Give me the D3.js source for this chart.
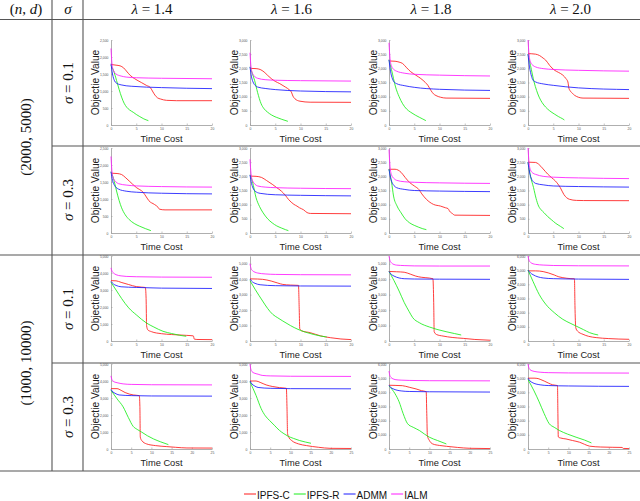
<!DOCTYPE html>
<html>
<head>
<meta charset="utf-8">
<script src="https://cdn.jsdelivr.net/npm/d3@7"></script>
<style>
  body { margin: 0; background: #fff; }
  svg { display: block; }
</style>
</head>
<body>
<div id="chart"></div>
<script>
// table headings
const sizes = ["(2000, 5000)", "(1000, 10000)"];
const sigmas = ["0.1", "0.3"];
const lambdas = ["1.4", "1.6", "1.8", "2.0"];
const methods = ["IPFS-C", "IPFS-R", "ADMM", "IALM"];

// axis ranges per panel (row * 4 + col)
const yMax = [2500, 3000, 3000, 3000, 2500, 3000, 3000, 3000, 5000, 5500, 5500, 6000, 5000, 5000, 6000, 6000];
const yStep = [500, 500, 500, 500, 500, 500, 500, 500, 1000, 1000, 1000, 1000, 1000, 1000, 1000, 1000];
const xMaxRow = [20, 20, 20, 25];
const xTicks = [0, 5, 10, 15, 20, 25];

// curves, [time, objective], one list per panel
const ipfsC = [
  [[0,1780],[1,1760],[1.8,1740],[2.5,1680],[3.2,1560],[3.8,1460],[4.7,1360],[6,1250],[7,1166],[7.8,1100],[8.2,1000],[8.7,880],[9.2,800],[9.8,765],[11,725],[13,715],[20,715]],
  [[0,2000],[1.2,1990],[2,1960],[2.8,1870],[3.5,1750],[4.2,1640],[5,1540],[5.9,1460],[7,1340],[7.8,1240],[8.2,1160],[8.5,1020],[8.9,925],[9.9,840],[11.9,805],[20,800]],
  [[0,2260],[1.2,2250],[2,2220],[2.7,2170],[3.5,2020],[4.3,1880],[5.3,1760],[6.3,1640],[7.2,1500],[7.7,1400],[8.3,1220],[8.8,1100],[9.3,1040],[10.2,980],[11.3,950],[20,940]],
  [[0,2520],[1.5,2500],[2.3,2450],[3,2360],[3.5,2290],[4.3,2100],[5.2,1940],[6,1860],[6.9,1760],[7.5,1640],[7.9,1520],[8.1,1300],[8.3,1220],[8.8,1120],[9.2,1050],[10.9,950],[20,940]],
  [[0,1760],[1.2,1750],[2.1,1720],[2.8,1640],[3.6,1530],[5,1340],[6.4,1190],[7,1060],[7.5,950],[8.6,840],[9.3,760],[9.6,700],[10.7,680],[20,680]],
  [[0,2010],[1.2,2000],[2.3,1960],[3.3,1850],[4.4,1720],[5.3,1600],[6.2,1480],[7,1330],[7.6,1190],[8.7,1010],[9.3,950],[9.8,890],[10.6,820],[11.3,720],[12,690],[20,680]],
  [[0,2250],[1.2,2250],[2.4,2140],[3.2,1960],[4.1,1780],[5.1,1650],[5.9,1540],[6.5,1380],[7.4,1190],[8.8,1010],[10.2,950],[11.2,890],[11.7,860],[12,770],[12.6,680],[13,630],[20,620]],
  [[0,2500],[1.5,2490],[2.1,2430],[3,2260],[3.9,2080],[4.7,1950],[5.4,1840],[6.4,1600],[7.1,1360],[8.2,1190],[9.6,1150],[11,1145],[20,1140]],
  [[0,3550],[1,3540],[2,3450],[3.5,3320],[5,3200],[6,3170],[6.8,3150],[6.95,2500],[7.05,900],[7.3,650],[8,550],[10,430],[12,380],[15,330],[16.3,300],[16.5,110],[17,90],[20,80]],
  [[0,4020],[1.5,4010],[2.5,3990],[4.2,3880],[5.5,3750],[6.5,3660],[8,3620],[9.6,3600],[9.75,2000],[9.85,800],[10.3,650],[11.9,540],[14,330],[15.9,215],[18,130],[20,90]],
  [[0,4500],[1.5,4480],[3,4450],[4.2,4330],[5.3,4200],[6.5,4120],[7.3,4095],[8.7,4030],[8.85,2500],[8.95,600],[9.4,420],[10.7,320],[12.5,230],[14.7,170],[17,100],[20,50]],
  [[0,4950],[1.5,4950],[3,4900],[4,4810],[5.2,4660],[6.1,4530],[6.9,4470],[8.5,4400],[9.2,4390],[9.3,2500],[9.45,950],[9.8,700],[10.9,470],[12,330],[13.5,240],[16,170],[20,120]],
  [[0,3550],[1.5,3550],[2.5,3450],[3.5,3320],[5.5,3180],[7,3140],[7.15,2500],[7.25,700],[7.6,500],[8.8,300],[11,200],[13.8,140],[16,100],[18.8,60],[25,55]],
  [[0,4000],[1.5,4000],[2.5,3920],[4,3770],[5.5,3680],[7.3,3610],[9,3570],[9.15,2500],[9.3,900],[9.7,650],[10.3,500],[12,300],[14,200],[17,100],[19.8,40],[25,30]],
  [[0,4500],[1.5,4490],[3.3,4470],[5,4360],[6.7,4240],[8,4120],[9.2,4050],[9.35,2500],[9.5,950],[10,600],[10.8,360],[12.5,250],[14.2,190],[17,110],[20,50],[25,30]],
  [[0,5000],[1.5,5000],[2.5,4970],[3,4920],[4,4800],[5,4660],[6.1,4530],[7.3,4480],[7.4,2500],[7.5,850],[8,780],[9.4,710],[11,600],[12.75,480],[14,330],[15.25,200],[18,140],[21,120],[23.3,110],[23.6,40],[25,30]]
];

const ipfsR = [
  [[0,1750],[0.5,1600],[1.1,1310],[1.6,1050],[2.1,820],[2.6,640],[3.1,524],[3.7,440],[4.4,375],[5,310],[5.7,247],[6.5,180],[7.4,128]],
  [[0,2050],[0.5,1800],[0.9,1580],[1.5,1150],[2.2,750],[2.8,570],[3.5,450],[4.3,350],[5.2,273],[6.3,200],[7.5,130]],
  [[0,2300],[0.5,1950],[1.3,1340],[2,1000],[2.7,750],[3.5,560],[4.3,450],[5.2,350],[6,273],[6.7,210],[7.3,154]],
  [[0,2500],[0.5,2100],[1.2,1520],[1.7,1220],[2.2,985],[2.8,790],[3.5,630],[4.3,500],[5.2,390],[6,300],[6.9,214],[7.2,178]],
  [[0,1800],[0.5,1600],[1.1,1235],[1.6,960],[2.1,741],[2.8,540],[3.6,395],[4.6,280],[5.7,198],[6.8,130],[7.9,69]],
  [[0,2050],[0.5,1800],[1.2,1245],[1.9,930],[2.6,711],[3.5,500],[4.4,356],[5.3,250],[6.2,178],[7,120],[7.6,83]],
  [[0,2250],[0.5,1800],[0.9,1305],[1.6,950],[2.4,711],[3.2,500],[4.1,356],[5,270],[5.9,202],[6.7,150],[7.4,119]],
  [[0,2500],[0.5,2000],[1.1,1600],[1.6,1220],[2.1,949],[2.6,820],[3.2,711],[3.9,580],[4.6,474],[5.5,340],[6.4,237],[7.1,154]],
  [[0,3450],[1,3000],[2.1,2500],[3.5,1950],[5.1,1516],[7,1063],[8.5,820],[10.3,571],[12,440],[13.6,335],[14.9,276]],
  [[0,3900],[1,3350],[2.5,2586],[3.5,2100],[4.5,1724],[5.5,1500],[6.5,1293],[8,1000],[9.5,754],[11,570],[12.5,431],[14,320],[15.2,258]],
  [[0,4500],[1,3900],[2,3233],[3,2500],[4,1900],[4.7,1509],[6,1185],[8,905],[9.5,750],[11.3,603],[13,480],[14.3,388]],
  [[0,5000],[1,4200],[2.2,3294],[3.5,2600],[5.2,2000],[6.9,1529],[8.5,1230],[9.5,1059],[11,800],[12.2,588],[13.9,424]],
  [[0,3450],[1.5,2950],[3,2480],[4.3,1850],[5.5,1329],[6.5,1150],[7.6,992],[9,780],[10.5,595],[12.3,420],[14.2,258]],
  [[0,3950],[1.5,3150],[2.75,2380],[3.8,1950],[4.8,1687],[6,1400],[7.3,1091],[8.4,900],[9.4,754],[10.8,620],[12.3,496],[13.7,410],[15.1,337]],
  [[0,4450],[1.5,3900],[2.5,3333],[3.5,2500],[4.6,1786],[6,1530],[7.5,1310],[8.8,1050],[10,833],[12,600],[14.2,357]],
  [[0,4900],[1.5,4100],[2.75,3333],[4,2500],[5.25,1786],[6.5,1530],[7.75,1310],[9.8,1050],[11.9,833],[14,630],[15.7,429]]
];

const admm = [
  [[0,1800],[0.3,1500],[0.7,1300],[1,1240],[2,1180],[4,1140],[10,1100],[20,1070]],
  [[0,2050],[0.3,1700],[0.7,1480],[1,1400],[1.5,1340],[3,1290],[5,1250],[10,1200],[20,1170]],
  [[0,2300],[0.3,1900],[0.7,1620],[1,1520],[1.5,1460],[3,1390],[5,1330],[10,1260],[20,1220]],
  [[0,2500],[0.3,2050],[0.7,1720],[1,1580],[1.5,1520],[3,1450],[5,1400],[10,1310],[20,1250]],
  [[0,1800],[0.3,1550],[0.7,1400],[1,1340],[1.5,1290],[3,1230],[5,1200],[10,1170],[20,1150]],
  [[0,2050],[0.3,1750],[0.7,1550],[1,1480],[2,1400],[5,1350],[10,1330],[20,1310]],
  [[0,2250],[0.3,1950],[0.7,1750],[1,1670],[1.5,1600],[3,1540],[5,1500],[10,1480],[20,1460]],
  [[0,2500],[0.3,2150],[0.7,1900],[1,1820],[1.5,1750],[3,1700],[5,1660],[10,1640],[20,1620]],
  [[0,3500],[0.5,3350],[1,3270],[2,3190],[5,3150],[10,3110],[20,3090]],
  [[0,4000],[0.5,3820],[1,3730],[2,3640],[5,3580],[10,3560],[20,3550]],
  [[0,4500],[0.5,4300],[1,4200],[3,4030],[5,4010],[10,4000],[20,3990]],
  [[0,5000],[0.5,4800],[1,4680],[3,4450],[5,4400],[10,4370],[20,4350]],
  [[0,3500],[0.5,3350],[1,3280],[2,3180],[5,3140],[10,3120],[25,3110]],
  [[0,4000],[0.5,3820],[1,3730],[2,3620],[5,3570],[10,3550],[25,3540]],
  [[0,4500],[0.5,4330],[1,4250],[3,4100],[5,4060],[10,4040],[25,4020]],
  [[0,5000],[0.5,4800],[1,4700],[3,4530],[5,4480],[10,4450],[25,4420]]
];

const ialm = [
  [[0,2250],[0.2,1800],[0.5,1600],[1,1500],[2,1440],[3,1410],[5,1390],[10,1375],[20,1360]],
  [[0,2550],[0.2,2050],[0.5,1820],[1,1700],[1.5,1650],[3,1600],[5,1580],[10,1565],[20,1550]],
  [[0,2900],[0.2,2350],[0.5,2080],[1,1950],[1.5,1900],[3,1830],[5,1790],[10,1760],[20,1730]],
  [[0,3000],[0.2,2500],[0.5,2220],[1,2100],[1.5,2050],[3,1990],[5,1960],[10,1930],[20,1900]],
  [[0,2250],[0.2,1800],[0.5,1600],[1,1500],[1.5,1450],[3,1410],[5,1385],[10,1365],[20,1350]],
  [[0,2600],[0.2,2100],[0.5,1850],[1,1720],[1.5,1660],[3,1620],[5,1600],[10,1580],[20,1565]],
  [[0,2950],[0.2,2350],[0.5,2050],[1,1920],[1.5,1860],[3,1810],[5,1790],[10,1770],[20,1750]],
  [[0,3000],[0.2,2500],[0.5,2220],[1,2110],[1.5,2070],[3,2000],[5,1970],[10,1945],[20,1920]],
  [[0,4300],[0.2,4100],[0.5,4000],[1,3900],[2,3830],[3,3800],[5,3780],[10,3760],[20,3750]],
  [[0,5000],[0.2,4700],[0.5,4550],[1,4450],[1.5,4400],[3,4340],[5,4310],[10,4290],[20,4280]],
  [[0,5500],[0.2,5200],[0.5,5050],[1,4950],[1.5,4910],[3,4880],[5,4860],[10,4850],[20,4850]],
  [[0,6000],[0.2,5700],[0.5,5550],[1,5450],[1.5,5410],[3,5360],[5,5330],[10,5310],[20,5300]],
  [[0,4300],[0.2,4100],[0.5,4000],[1,3930],[1.5,3900],[3,3830],[5,3800],[10,3780],[25,3770]],
  [[0,5000],[0.2,4700],[0.5,4550],[1,4470],[2,4400],[3,4330],[5,4300],[10,4280],[25,4270]],
  [[0,5500],[0.2,5200],[0.5,5050],[1,4950],[1.5,4900],[3,4860],[5,4840],[10,4820],[25,4810]],
  [[0,6000],[0.2,5750],[0.5,5600],[1,5520],[1.5,5480],[3,5420],[5,5390],[10,5370],[25,5360]]
];

const seriesList = [ipfsC, ipfsR, admm, ialm];
const colors = ["#ff1a1a", "#1aee1a", "#1a1aff", "#ff1aff"];

const W = 640, H = 501;
const serif = "'Liberation Serif', 'DejaVu Serif', serif";
const sans = "'Liberation Sans', Arial, sans-serif";

const svg = d3.select("#chart").append("svg")
  .attr("width", W)
  .attr("height", H);

// table rules
const grid = svg.append("g")
  .attr("stroke", "#555")
  .attr("stroke-width", 1.1);
grid.append("line").attr("x1", 0).attr("x2", W).attr("y1", 19.5).attr("y2", 19.5);
grid.append("line").attr("x1", 52).attr("x2", W).attr("y1", 146).attr("y2", 146);
grid.append("line").attr("x1", 0).attr("x2", W).attr("y1", 255).attr("y2", 255);
grid.append("line").attr("x1", 52).attr("x2", W).attr("y1", 363).attr("y2", 363);
grid.append("line").attr("x1", 0).attr("x2", W).attr("y1", 471).attr("y2", 471);
grid.append("line").attr("x1", 52).attr("x2", 52).attr("y1", 0).attr("y2", 471);
grid.append("line").attr("x1", 83).attr("x2", 83).attr("y1", 0).attr("y2", 471);

// header row
const head = svg.append("g")
  .attr("font-family", serif)
  .attr("font-size", 15)
  .attr("fill", "#111");

let t = head.append("text").attr("x", 26).attr("y", 14).attr("text-anchor", "middle");
t.append("tspan").text("(");
t.append("tspan").attr("font-style", "italic").text("n");
t.append("tspan").text(", ");
t.append("tspan").attr("font-style", "italic").text("d");
t.append("tspan").text(")");

head.append("text").attr("x", 68).attr("y", 14).attr("text-anchor", "middle")
  .attr("font-style", "italic").text("σ");

lambdas.forEach((lam, c) => {
  const tx = head.append("text")
    .attr("x", 152 + c * 139.5)
    .attr("y", 14)
    .attr("text-anchor", "middle");
  tx.append("tspan").attr("font-style", "italic").text("λ");
  tx.append("tspan").text(" = " + lam);
});

// left row labels
sizes.forEach((s, i) => {
  const cy = i === 0 ? 137 : 363;
  head.append("text")
    .attr("transform", `translate(31,${cy}) rotate(-90)`)
    .attr("text-anchor", "middle")
    .text(s);
});

const sigmaCenters = [83, 200, 309, 417];
sigmaCenters.forEach((cy, i) => {
  const tx = head.append("text")
    .attr("transform", `translate(73,${cy}) rotate(-90)`)
    .attr("text-anchor", "middle");
  tx.append("tspan").attr("font-style", "italic").text("σ");
  tx.append("tspan").text(" = " + sigmas[i % 2]);
});

// small plots
const pw = 101, ph = 85;

for (let r = 0; r < 4; r++) {
  for (let c = 0; c < 4; c++) {
    const p = r * 4 + c;
    const g = svg.append("g")
      .attr("transform", `translate(${111 + c * 139},${40 + r * 108})`);

    const xScale = d3.scaleLinear().domain([0, xMaxRow[r]]).range([0, pw]);
    const yScale = d3.scaleLinear().domain([0, yMax[p]]).range([ph, 0]);

    const xAxis = d3.axisBottom(xScale)
      .tickValues(xTicks.filter(v => v <= xMaxRow[r]))
      .tickSizeInner(-1.5).tickSizeOuter(0).tickPadding(2.5);
    const yAxis = d3.axisLeft(yScale)
      .tickValues(d3.range(0, yMax[p] + 1, yStep[p]))
      .tickSizeInner(-1.5).tickSizeOuter(0).tickPadding(2.5);

    const gx = g.append("g").attr("transform", `translate(0,${ph})`).call(xAxis);
    const gy = g.append("g").call(yAxis);
    [gx, gy].forEach(a => {
      a.select(".domain").attr("stroke", "#9a9a9a").attr("stroke-width", 0.8);
      a.selectAll(".tick line").attr("stroke", "#9a9a9a").attr("stroke-width", 0.6);
      a.selectAll(".tick text")
        .attr("fill", "#555")
        .attr("font-size", 3.4)
        .attr("font-family", sans);
    });

    const line = d3.line()
      .x(d => xScale(d[0]))
      .y(d => yScale(d[1]))
      .curve(d3.curveMonotoneX);

    seriesList.forEach((series, k) => {
      g.append("path")
        .datum(series[p])
        .attr("fill", "none")
        .attr("stroke", colors[k])
        .attr("stroke-width", 0.85)
        .attr("d", line);
    });

    g.append("text")
      .attr("transform", `translate(-12.5,${ph / 2}) rotate(-90)`)
      .attr("text-anchor", "middle")
      .attr("font-family", sans)
      .attr("font-size", 10.2)
      .attr("fill", "#222")
      .text("Objectie Value");

    g.append("text")
      .attr("x", pw / 2)
      .attr("y", ph + 16.5)
      .attr("text-anchor", "middle")
      .attr("font-family", sans)
      .attr("font-size", 9.3)
      .attr("fill", "#222")
      .text("Time Cost");
  }
}

// legend at the bottom
const legend = svg.append("g")
  .attr("font-family", sans)
  .attr("font-size", 10)
  .attr("fill", "#111");
let lx = 244;
methods.forEach((m, k) => {
  legend.append("line")
    .attr("x1", lx).attr("x2", lx + 12)
    .attr("y1", 494).attr("y2", 494)
    .attr("stroke", colors[k])
    .attr("stroke-width", 1);
  const tx = legend.append("text")
    .attr("x", lx + 13)
    .attr("y", 498.5)
    .text(m);
  lx += 13 + tx.node().getComputedTextLength() + 4;
});
</script>
</body>
</html>
